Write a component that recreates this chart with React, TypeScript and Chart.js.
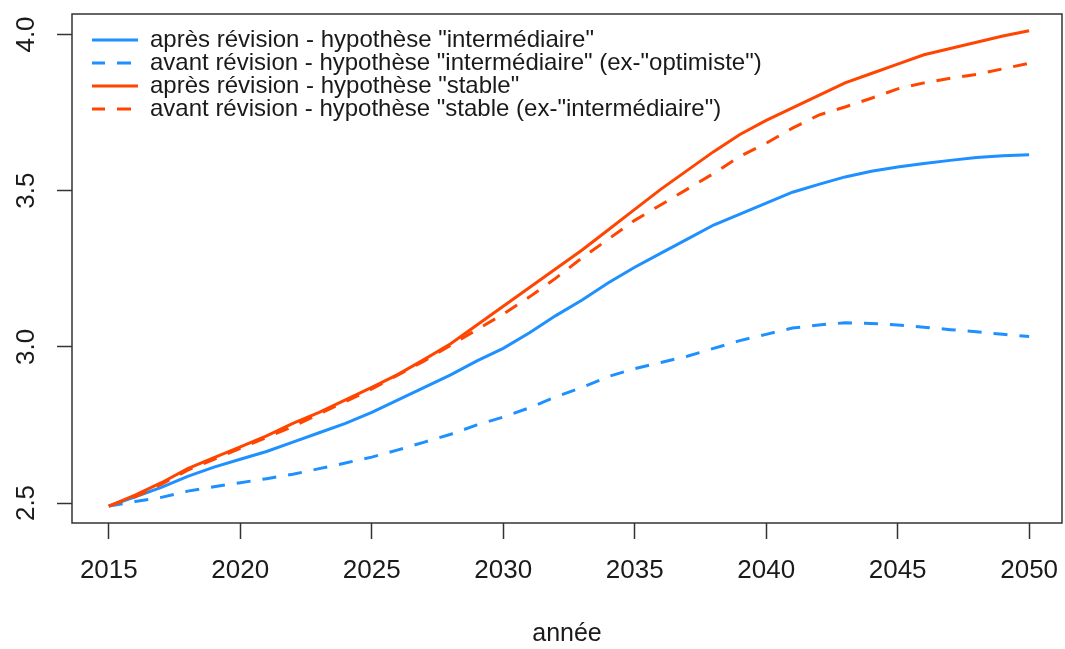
import React, { useEffect, useRef } from "react";
import { Chart, registerables } from "chart.js";

Chart.register(...registerables);

const years = [
  2015, 2016, 2017, 2018, 2019, 2020, 2021, 2022, 2023, 2024, 2025, 2026,
  2027, 2028, 2029, 2030, 2031, 2032, 2033, 2034, 2035, 2036, 2037, 2038,
  2039, 2040, 2041, 2042, 2043, 2044, 2045, 2046, 2047, 2048, 2049, 2050,
];

const apresIntermediaire = [
  2.49, 2.52, 2.55, 2.585, 2.615, 2.64, 2.665, 2.695, 2.725, 2.755, 2.79, 2.83,
  2.87, 2.91, 2.955, 2.995, 3.045, 3.1, 3.15, 3.205, 3.255, 3.3, 3.345, 3.39,
  3.425, 3.46, 3.495, 3.52, 3.544, 3.562, 3.576, 3.587, 3.597, 3.606, 3.612, 3.615,
];

const avantIntermediaire = [
  2.49, 2.505, 2.518, 2.538, 2.552, 2.565, 2.578, 2.592, 2.61, 2.628, 2.647, 2.67,
  2.695, 2.72, 2.75, 2.775, 2.805, 2.84, 2.87, 2.905, 2.93, 2.95, 2.97, 2.995,
  3.02, 3.04, 3.06, 3.07, 3.077, 3.075, 3.07, 3.063, 3.055, 3.048, 3.04, 3.033,
];

const apresStable = [
  2.49, 2.525, 2.565, 2.61, 2.645, 2.68, 2.715, 2.755, 2.79, 2.83, 2.87, 2.912,
  2.96, 3.01, 3.07, 3.13, 3.19, 3.25, 3.31, 3.375, 3.44, 3.505, 3.565, 3.625,
  3.68, 3.725, 3.765, 3.805, 3.845, 3.875, 3.905, 3.935, 3.955, 3.975, 3.995, 4.012,
];

const avantStable = [
  2.49, 2.52, 2.56, 2.605, 2.64, 2.675, 2.71, 2.745, 2.785, 2.825, 2.865, 2.91,
  2.955, 3.005, 3.055, 3.105, 3.16, 3.22, 3.285, 3.345, 3.405, 3.455, 3.505, 3.555,
  3.61, 3.652, 3.7, 3.742, 3.768, 3.796, 3.826, 3.845, 3.86, 3.872, 3.89, 3.908,
];

const seriesLabels = [
  'après révision - hypothèse "intermédiaire"',
  'avant révision - hypothèse "intermédiaire" (ex-"optimiste")',
  'après révision - hypothèse "stable"',
  'avant révision - hypothèse "stable (ex-"intermédiaire")',
];

const xTickValues = [2015, 2020, 2025, 2030, 2035, 2040, 2045, 2050];
const yTickValues = [2.5, 3.0, 3.5, 4.0];
const xTitle = "année";

const BLUE = "#1E90FF";
const RED = "#FF4500";
const FONT = "'Liberation Sans', Arial, sans-serif";
const INK = "#1a1a1a";
const AXIS = "#333333";

const toPoints = (vals: number[]) => years.map((yr, i) => ({ x: yr, y: vals[i] }));

const boxPlugin = {
  id: "plotBox",
  afterDatasetsDraw(chart: any) {
    const { ctx, chartArea } = chart;
    ctx.save();
    ctx.strokeStyle = AXIS;
    ctx.lineWidth = 1.5;
    ctx.setLineDash([]);
    ctx.strokeRect(chartArea.left, chartArea.top, chartArea.right - chartArea.left, chartArea.bottom - chartArea.top);
    ctx.restore();
  },
};

const legendPlacer = {
  id: "legendPlacer",
  afterLayout(chart: any) {
    const lg = chart.legend;
    if (lg) {
      lg.left = 92;
      lg.top = 29;
    }
  },
};

const zeroPad = (s: any) => {
  s.paddingLeft = 0;
  s.paddingRight = 0;
  s.paddingTop = 0;
  s.paddingBottom = 0;
};

export default function App() {
  const ref = useRef<HTMLCanvasElement>(null);

  useEffect(() => {
    if (!ref.current) return;
    const chart = new Chart(ref.current, {
      type: "line",
      data: {
        datasets: [
          {
            label: seriesLabels[0],
            data: toPoints(apresIntermediaire),
            borderColor: BLUE,
            backgroundColor: BLUE,
            borderWidth: 3,
            pointRadius: 0,
            tension: 0,
            order: 4,
          },
          {
            label: seriesLabels[1],
            data: toPoints(avantIntermediaire),
            borderColor: BLUE,
            backgroundColor: BLUE,
            borderWidth: 3,
            borderDash: [14, 12],
            pointRadius: 0,
            tension: 0,
            order: 3,
          },
          {
            label: seriesLabels[2],
            data: toPoints(apresStable),
            borderColor: RED,
            backgroundColor: RED,
            borderWidth: 3,
            pointRadius: 0,
            tension: 0,
            order: 2,
          },
          {
            label: seriesLabels[3],
            data: toPoints(avantStable),
            borderColor: RED,
            backgroundColor: RED,
            borderWidth: 3,
            borderDash: [14, 12],
            pointRadius: 0,
            tension: 0,
            order: 1,
          },
        ],
      },
      options: {
        animation: false,
        responsive: true,
        maintainAspectRatio: false,
        devicePixelRatio: 1,
        layout: { padding: { top: 14, right: 3, left: 0, bottom: 0 } },
        plugins: {
          tooltip: { enabled: false },
          legend: {
            display: true,
            position: "chartArea",
            align: "start",
            labels: {
              usePointStyle: true,
              pointStyle: "line",
              pointStyleWidth: 47,
              padding: -1,
              color: INK,
              font: { family: FONT, size: 24 },
              sort: (a: any, b: any) => a.datasetIndex - b.datasetIndex,
              generateLabels: (c: any) => {
                const base = (Chart as any).defaults.plugins.legend.labels.generateLabels(c);
                return base.map((l: any) => {
                  const ds = c.data.datasets[l.datasetIndex];
                  return {
                    ...l,
                    strokeStyle: ds.borderColor,
                    fillStyle: ds.borderColor,
                    lineWidth: 3,
                    lineDash: ds.borderDash || [],
                    lineDashOffset: 0,
                    lineCap: "butt",
                    pointStyle: "line",
                  };
                });
              },
            },
          },
        },
        scales: {
          x: {
            type: "linear",
            min: 2013.6,
            max: 2051.25,
            afterBuildTicks: (s: any) => {
              s.ticks = xTickValues.map((v) => ({ value: v }));
            },
            afterFit: (s: any) => {
              s.height = 126;
              zeroPad(s);
            },
            ticks: {
              callback: (v: any) => String(v),
              autoSkip: false,
              maxRotation: 0,
              minRotation: 0,
              padding: 16,
              color: INK,
              font: { family: FONT, size: 26 },
            },
            grid: {
              drawOnChartArea: false,
              drawTicks: true,
              tickLength: 16,
              tickColor: AXIS,
              tickWidth: 1.5,
            },
            border: { display: false },
            title: {
              display: true,
              text: xTitle,
              color: INK,
              font: { family: FONT, size: 25 },
              padding: { top: 0, bottom: 0 },
            },
          },
          y: {
            type: "linear",
            min: 2.436,
            max: 4.0656,
            afterBuildTicks: (s: any) => {
              s.ticks = yTickValues.map((v) => ({ value: v }));
            },
            afterFit: (s: any) => {
              s.width = 72;
              zeroPad(s);
            },
            ticks: {
              callback: (v: any) => Number(v).toFixed(1),
              minRotation: 90,
              maxRotation: 90,
              crossAlign: "center",
              padding: 12,
              color: INK,
              font: { family: FONT, size: 26 },
            },
            grid: {
              drawOnChartArea: false,
              drawTicks: true,
              tickLength: 15,
              tickColor: AXIS,
              tickWidth: 1.5,
            },
            border: { display: false },
          },
        },
      } as any,
      plugins: [boxPlugin, legendPlacer],
    });
    return () => chart.destroy();
  }, []);

  return (
    <div
      style={{
        position: "fixed",
        left: 0,
        top: 0,
        width: 1065,
        height: 649,
        background: "#ffffff",
      }}
    >
      <canvas ref={ref} />
    </div>
  );
}
